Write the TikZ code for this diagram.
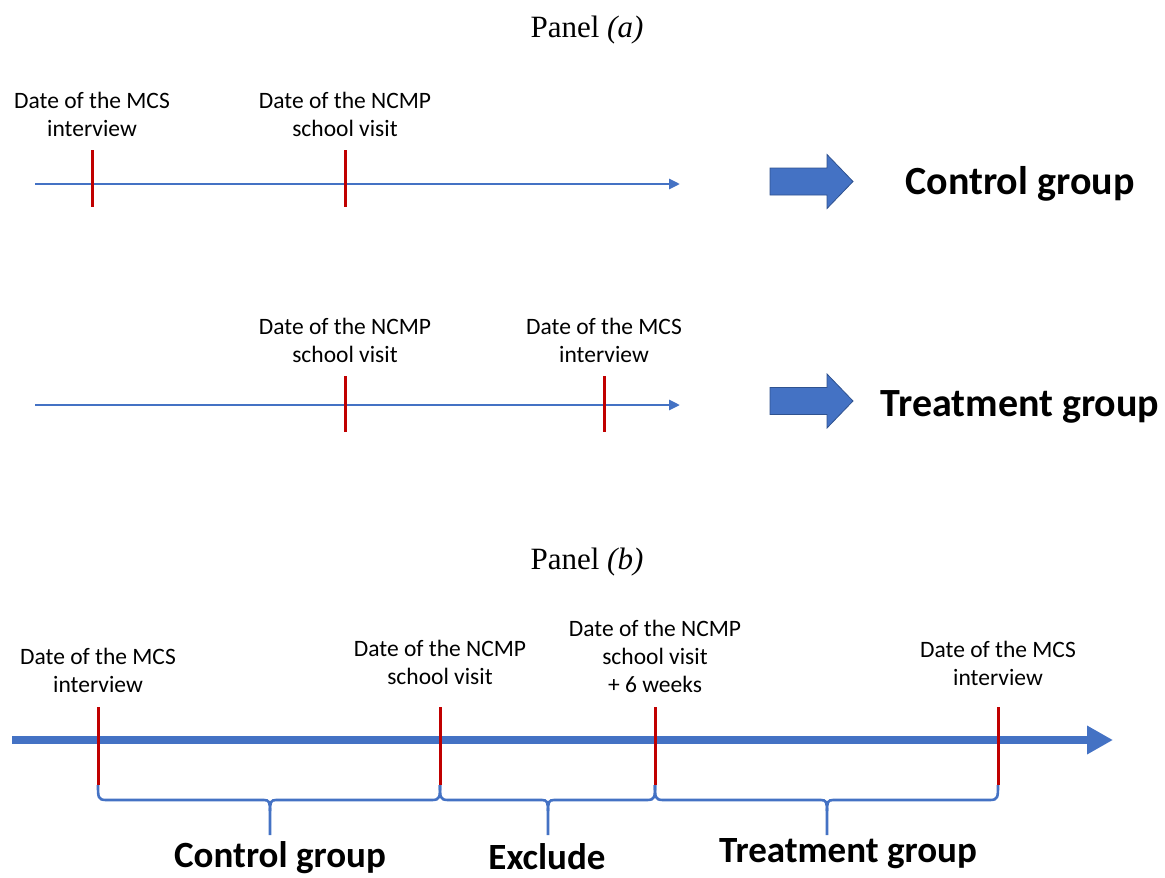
\documentclass[tikz,border=0pt]{standalone}
\usepackage{fontspec}
\setmainfont{Liberation Serif}
\newfontfamily\calfont{Carlito}
\usetikzlibrary{positioning,arrows.meta}

\definecolor{tlblue}{HTML}{4472C4}
\definecolor{tickred}{HTML}{C00000}
\definecolor{arrowedge}{HTML}{2F528F}

% curly bracket under the time line: left end, right end, tip
\newcommand{\grpbrace}[3]{%
  \draw[bracecol] (#1,785) .. controls (#1,797) and (#1,800) .. (#1+8,800) -- (#3-6,800)
    .. controls (#3-1,800) and (#3,802) .. (#3,811) -- (#3,835);
  \draw[bracecol] (#3,811) .. controls (#3,802) and (#3+1,800) .. (#3+6,800) -- (#2-8,800)
    .. controls (#2,800) and (#2,797) .. (#2,785);}

\tikzset{
  bigarrow/.pic={
    \draw[fill=tlblue, draw=arrowedge, line width=0.8pt]
      (0,-13.5) -- (57,-13.5) -- (57,-27) -- (83,0) -- (57,27) -- (57,13.5) -- (0,13.5) -- cycle;
  }
}

\begin{document}
\begin{tikzpicture}[x=1pt,y=-1pt,
  every node/.style={inner sep=0pt},
  datelbl/.style={font=\calfont\fontsize{23.5}{28}\selectfont, align=center},
  grplbl/.style={font=\calfont\bfseries\fontsize{40}{48}\selectfont},
  grplblb/.style={font=\calfont\bfseries\fontsize{37}{44}\selectfont},
  paneltitle/.style={font=\fontsize{31}{37}\selectfont},
  timeline/.style={draw=tlblue, line width=2.7pt, -{Triangle[length=11pt,width=10pt]}},
  bigline/.style={draw=tlblue, line width=8pt, -{Triangle[length=26pt,width=27pt]}},
  tick/.style={draw=tickred, line width=3pt},
  bracecol/.style={draw=tlblue, line width=2.6pt}]
\useasboundingbox (0,0) rectangle (1165,878);

% ---- panel (a)
\node[paneltitle] (ttla) at (587,30) {Panel \textit{(a)}};

% control group
\coordinate (ca0) at (35,184);
\coordinate (ca1) at (680,184);
\draw[timeline] (ca0) -- (ca1);
\coordinate (camcs) at (92,150);
\coordinate (cancmp) at (345,150);
\draw[tick] (camcs) -- ++(0,57);
\draw[tick] (cancmp) -- ++(0,57);
\node[datelbl, above=13pt of camcs] (lcamcs) {Date of the MCS\\interview};
\node[datelbl, above=13pt of cancmp] (lcancmp) {Date of the NCMP\\school visit};
\pic at (770,181.5) {bigarrow};
\node[grplbl] (gctl) at (1020,184) {Control group};

% treatment group
\coordinate (ta0) at (35,405);
\coordinate (ta1) at (680,405);
\draw[timeline] (ta0) -- (ta1);
\coordinate (tancmp) at (345,376);
\coordinate (tamcs) at (604,376);
\draw[tick] (tancmp) -- ++(0,56);
\draw[tick] (tamcs) -- ++(0,56);
\node[datelbl, above=13pt of tancmp] (ltancmp) {Date of the NCMP\\school visit};
\node[datelbl, above=13pt of tamcs] (ltamcs) {Date of the MCS\\interview};
\pic at (770,401) {bigarrow};
\node[grplbl] (gtrt) at (1020,407) {Treatment group};

% ---- panel (b)
\node[paneltitle] (ttlb) at (587,562) {Panel \textit{(b)}};

\coordinate (b0) at (12,740);
\coordinate (b1) at (1113,740);
\draw[bigline] (b0) -- (b1);
\coordinate (bmcs1) at (98,707);
\coordinate (bncmp) at (440,707);
\coordinate (bsix) at (655,707);
\coordinate (bmcs2) at (998,707);
\foreach \t in {bmcs1,bncmp,bsix,bmcs2}
  \draw[tick] (\t) -- ++(0,78);
\node[datelbl, above=14pt of bmcs1] (lbmcs1) {Date of the MCS\\interview};
\node[datelbl, above=22pt of bncmp] (lbncmp) {Date of the NCMP\\school visit};
\node[datelbl, above=14pt of bsix] (lbsix) {Date of the NCMP\\school visit\\+ 6 weeks};
\node[datelbl, above=21pt of bmcs2] (lbmcs2) {Date of the MCS\\interview};

\grpbrace{98}{440}{270}
\grpbrace{440}{655}{548}
\grpbrace{655}{998}{827}

\node[grplblb] (bctl) at (280,858) {Control group};
\node[grplblb] (bexc) at (547,857) {Exclude};
\node[grplblb] (btrt) at (848,854) {Treatment group};
\end{tikzpicture}
\end{document}
